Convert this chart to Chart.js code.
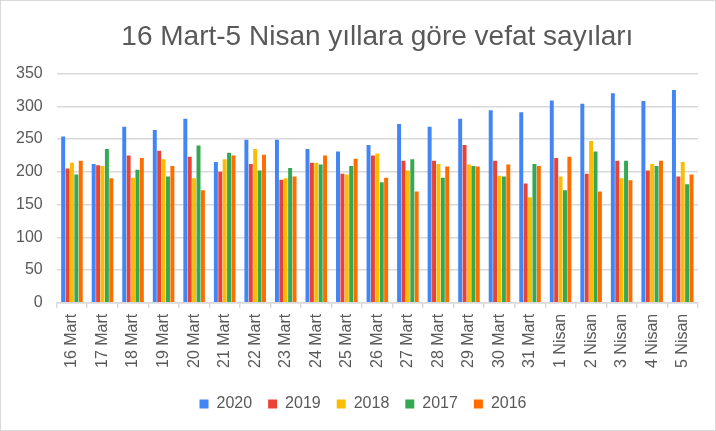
<!DOCTYPE html>
<html lang="tr">
<head>
    <meta charset="UTF-8">
    <title>16 Mart-5 Nisan yıllara göre vefat sayıları</title>
    <script src="https://cdn.jsdelivr.net/npm/chart.js"></script>
    <style>
        html, body { margin: 0; padding: 0; background: #fff; }
        .wrap { width: 714px; height: 429px; border: 1px solid #d9d9d9; }
    </style>
</head>
<body>
    <div class="wrap"><canvas id="chart" width="714" height="429"></canvas></div>

    <script>
        // günler
        const days = ['16 Mart', '17 Mart', '18 Mart', '19 Mart', '20 Mart', '21 Mart', '22 Mart',
            '23 Mart', '24 Mart', '25 Mart', '26 Mart', '27 Mart', '28 Mart', '29 Mart',
            '30 Mart', '31 Mart', '1 Nisan', '2 Nisan', '3 Nisan', '4 Nisan', '5 Nisan'];

        // yıllara göre vefat sayıları
        const y2020 = [254, 212, 269, 264, 281, 215, 249, 249, 235, 231, 241, 273, 269, 281, 294, 291, 309, 304, 320, 308, 325];
        const y2019 = [205, 210, 225, 232, 223, 200, 212, 188, 214, 197, 225, 217, 217, 241, 217, 182, 221, 197, 217, 202, 193];
        const y2018 = [214, 209, 191, 219, 190, 219, 235, 190, 214, 196, 228, 202, 212, 211, 194, 161, 193, 247, 190, 212, 215];
        const y2017 = [196, 235, 203, 193, 240, 229, 202, 206, 211, 209, 184, 219, 191, 209, 193, 212, 172, 231, 217, 209, 181];
        const y2016 = [217, 190, 221, 209, 172, 225, 226, 193, 225, 220, 191, 170, 208, 208, 211, 209, 223, 170, 187, 217, 196];

        const yTicks = [0, 50, 100, 150, 200, 250, 300, 350];

        const textColor = '#595959';
        const gridColor = '#d9d9d9';
        const fontFam = 'Liberation Sans, Arial, sans-serif';

        function ds(label, data, color) {
            return {
                label: label,
                data: data,
                backgroundColor: color,
                borderWidth: 0,
                barPercentage: 0.9,
                categoryPercentage: 0.72
            };
        }

        // lejantı biraz sağa kaydır
        const legendShift = {
            id: 'legendShift',
            afterLayout(chart) {
                chart.legend.left += 13;
                chart.legend.right += 13;
            }
        };

        const ctx = document.getElementById('chart').getContext('2d');
        new Chart(ctx, {
            type: 'bar',
            data: {
                labels: days,
                datasets: [
                    ds('2020', y2020, '#4285f4'),
                    ds('2019', y2019, '#ea4335'),
                    ds('2018', y2018, '#fbbc04'),
                    ds('2017', y2017, '#34a853'),
                    ds('2016', y2016, '#ff6d01')
                ]
            },
            options: {
                responsive: false,
                animation: false,
                layout: { padding: { left: 1, right: 17, top: 0, bottom: 8 } },
                plugins: {
                    title: {
                        display: true,
                        fullSize: false,
                        text: '16 Mart-5 Nisan yıllara göre vefat sayıları',
                        color: textColor,
                        font: { family: fontFam, size: 28, weight: 'normal' },
                        padding: { top: 19, bottom: 20 }
                    },
                    legend: {
                        position: 'bottom',
                        labels: {
                            color: textColor,
                            font: { family: fontFam, size: 16 },
                            boxWidth: 9,
                            boxHeight: 9,
                            padding: 16
                        }
                    },
                    tooltip: { enabled: false }
                },
                scales: {
                    x: {
                        afterFit: function (axis) {
                            axis.height += 6;
                        },
                        grid: {
                            offset: true,
                            drawOnChartArea: false,
                            color: gridColor,
                            lineWidth: 1.5,
                            tickLength: 5
                        },
                        border: { color: gridColor, width: 1.5 },
                        ticks: {
                            color: textColor,
                            font: { family: fontFam, size: 16 },
                            minRotation: 90,
                            maxRotation: 90,
                            autoSkip: false,
                            padding: 6
                        }
                    },
                    y: {
                        min: 0,
                        max: 350,
                        afterBuildTicks: function (axis) {
                            axis.ticks = yTicks.map(v => ({ value: v }));
                        },
                        grid: {
                            color: gridColor,
                            lineWidth: 1.5,
                            drawTicks: false
                        },
                        border: { display: false },
                        ticks: {
                            color: textColor,
                            font: { family: fontFam, size: 16 },
                            padding: 14
                        }
                    }
                }
            },
            plugins: [legendShift]
        });
    </script>
</body>
</html>
